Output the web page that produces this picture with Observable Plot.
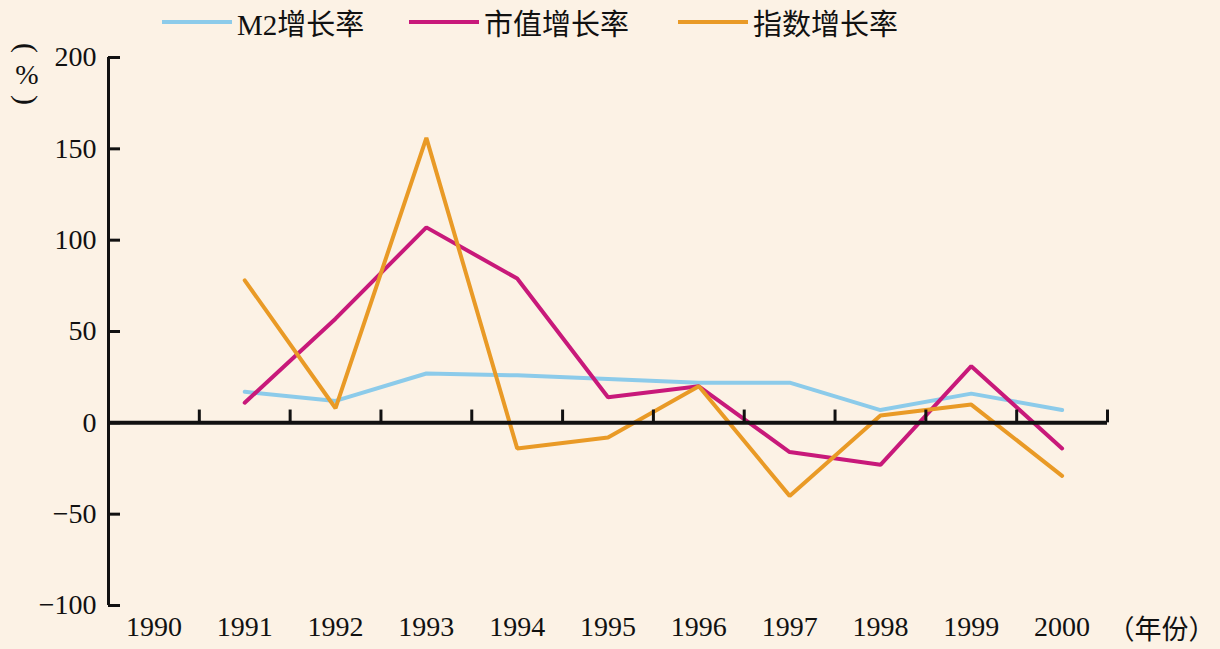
<!DOCTYPE html>
<html><head><meta charset="utf-8">
<script src="https://cdn.jsdelivr.net/npm/d3@7"></script>
<script src="https://cdn.jsdelivr.net/npm/@observablehq/plot@0.6"></script>
<style>
body{margin:0;background:#fcf2e5;}
#wrap{width:1220px;height:649px;position:relative;overflow:hidden;font-family:"Liberation Serif","Noto Sans CJK SC",serif;color:#111;background:#fcf2e5}
#legend{position:relative;height:40px}
.item{position:absolute;top:2px;height:40px;display:flex;align-items:center;font-size:29px;white-space:nowrap}
.sw{display:inline-block;width:70px;height:4px;margin-right:5px}
#chart svg{display:block}
.unit{position:absolute;left:12px;width:30px;height:30px;line-height:30px;text-align:center;font-size:28px;font-family:"Liberation Serif",serif}
.rot{transform:rotate(90deg);font-size:30px}
</style></head><body><div id="wrap"><div id="legend"></div><div id="chart"></div><div id="yunit"></div></div>
<script>
const years = [1991, 1992, 1993, 1994, 1995, 1996, 1997, 1998, 1999, 2000];
const axisYears = [1990, 1991, 1992, 1993, 1994, 1995, 1996, 1997, 1998, 1999, 2000];
const m2Growth = [17, 12, 27, 26, 24, 22, 22, 7, 16, 7];
const capGrowth = [11, 57, 107, 79, 14, 20, -16, -23, 31, -14];
const indexGrowth = [78, 8, 156, -14, -8, 20, -40, 4, 10, -29];
const seriesNames = ["M2增长率", "市值增长率", "指数增长率"];
const seriesColors = ["#8ccbea", "#c8197a", "#e99a26"];
const yTicks = [-100, -50, 0, 50, 100, 150, 200];
const yUnitParts = ["(", "%", ")"];
const xUnit = "（年份）";

const seriesValues = [m2Growth, capGrowth, indexGrowth];
const legendLeft = [162, 409, 678];
const unitTop = [33, 60, 85];

const legend = document.getElementById("legend");
seriesNames.forEach((name, i) => {
  const it = document.createElement("div");
  it.className = "item";
  it.style.left = legendLeft[i] + "px";
  const sw = document.createElement("span");
  sw.className = "sw";
  sw.style.background = seriesColors[i];
  it.appendChild(sw);
  it.appendChild(document.createTextNode(name));
  legend.appendChild(it);
});

const yunit = document.getElementById("yunit");
yUnitParts.forEach((t, i) => {
  const d = document.createElement("div");
  d.className = "unit" + (i !== 1 ? " rot" : "");
  d.style.top = unitTop[i] + "px";
  d.textContent = t;
  yunit.appendChild(d);
});

const rows = seriesNames.flatMap((name, i) =>
  years.map((yr, j) => ({year: yr, value: seriesValues[i][j], series: name})));
const boundaries = axisYears.map(y => y + 0.5);
const font = '"Liberation Serif","Noto Sans CJK SC",serif';
const cjk = '"Noto Sans CJK SC",sans-serif';

const chart = Plot.plot({
  width: 1220, height: 609,
  marginLeft: 108, marginRight: 113, marginTop: 17, marginBottom: 44,
  style: {background: "transparent", fontFamily: font, fontSize: "28px", color: "#111", overflow: "visible"},
  x: {type: "linear", domain: [1989.5, 2000.5]},
  y: {domain: [-100, 200]},
  color: {domain: seriesNames, range: seriesColors},
  marks: [
    Plot.axisY({ticks: yTicks, tickSize: -12, tickPadding: 24, label: null, strokeWidth: 3,
      tickFormat: d => d < 0 ? "−" + (-d) : String(d), fontSize: 28}),
    Plot.axisX({ticks: axisYears, tickSize: 0, tickPadding: 11, label: null,
      tickFormat: d => String(d), fontSize: 28}),
    Plot.ruleX([1989.5], {y1: -100, y2: 200, strokeWidth: 3, stroke: "#111"}),
    Plot.lineY(rows, {x: "year", y: "value", stroke: "series", strokeWidth: 4, strokeLinejoin: "miter"}),
    Plot.ruleY([0], {strokeWidth: 4, stroke: "#111"}),
    Plot.ruleX(boundaries, {y1: 0, y2: 7, strokeWidth: 3, stroke: "#111"}),
    Plot.text([xUnit], {x: 2000.5, y: -100, dx: 0, dy: 25, textAnchor: "start", fontSize: 27, fontFamily: cjk, fill: "#111"})
  ]
});
document.getElementById("chart").appendChild(chart);
</script></body></html>
